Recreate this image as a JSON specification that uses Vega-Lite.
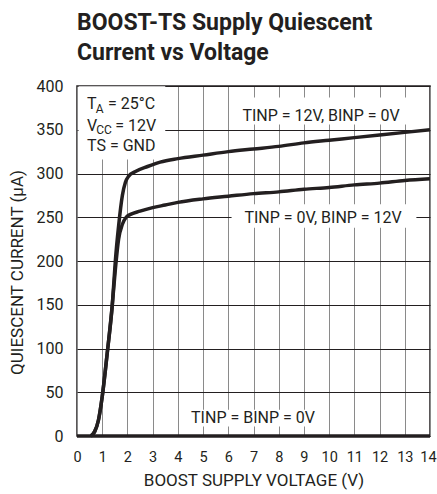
{
  "$schema": "https://vega.github.io/schema/vega-lite/v6.json",
  "width": 353,
  "height": 350,
  "autosize": {"type": "none"},
  "padding": {"left": 77, "top": 86, "right": 7, "bottom": 58},
  "background": "white",
  "title": {
    "text": ["BOOST-TS Supply Quiescent", "Current vs Voltage"],
    "anchor": "start",
    "frame": "group",
    "font": "Roboto",
    "fontSize": 23,
    "fontWeight": "bold",
    "color": "#231f20",
    "lineHeight": 30,
    "offset": 13
  },
  "config": {
    "view": {"stroke": "#231f20", "strokeWidth": 1.5},
    "axis": {
      "domain": false,
      "ticks": false,
      "tickSize": 0,
      "labelFont": "Roboto",
      "labelFontSize": 16,
      "labelColor": "#231f20",
      "labelPadding": 14,
      "labelFlush": false,
      "labelOverlap": false,
      "titleFont": "Roboto",
      "titleFontSize": 17,
      "titleFontWeight": "normal",
      "titleColor": "#231f20",
      "gridWidth": 1
    }
  },
  "datasets": {
    "curves": [
      {"s": "a", "x": 0.55, "y": 0}, {"s": "a", "x": 0.7, "y": 5}, {"s": "a", "x": 0.85, "y": 18}, {"s": "a", "x": 1.0, "y": 45},
      {"s": "a", "x": 1.2, "y": 95}, {"s": "a", "x": 1.4, "y": 150}, {"s": "a", "x": 1.52, "y": 200}, {"s": "a", "x": 1.65, "y": 240},
      {"s": "a", "x": 1.8, "y": 275}, {"s": "a", "x": 1.92, "y": 290}, {"s": "a", "x": 2.05, "y": 297}, {"s": "a", "x": 2.3, "y": 302},
      {"s": "a", "x": 2.8, "y": 308}, {"s": "a", "x": 3.3, "y": 313}, {"s": "a", "x": 4, "y": 317}, {"s": "a", "x": 5, "y": 321},
      {"s": "a", "x": 6, "y": 325}, {"s": "a", "x": 7, "y": 328}, {"s": "a", "x": 8, "y": 331}, {"s": "a", "x": 9, "y": 335},
      {"s": "a", "x": 10, "y": 338}, {"s": "a", "x": 11, "y": 341}, {"s": "a", "x": 12, "y": 344}, {"s": "a", "x": 13, "y": 347},
      {"s": "a", "x": 14, "y": 350},
      {"s": "b", "x": 0.55, "y": 0}, {"s": "b", "x": 0.7, "y": 5}, {"s": "b", "x": 0.85, "y": 18}, {"s": "b", "x": 1.0, "y": 45},
      {"s": "b", "x": 1.2, "y": 95}, {"s": "b", "x": 1.4, "y": 150}, {"s": "b", "x": 1.52, "y": 190}, {"s": "b", "x": 1.65, "y": 225},
      {"s": "b", "x": 1.8, "y": 242}, {"s": "b", "x": 1.95, "y": 250}, {"s": "b", "x": 2.1, "y": 253}, {"s": "b", "x": 2.5, "y": 257},
      {"s": "b", "x": 3, "y": 261}, {"s": "b", "x": 3.5, "y": 264}, {"s": "b", "x": 4, "y": 267}, {"s": "b", "x": 5, "y": 271},
      {"s": "b", "x": 6, "y": 274}, {"s": "b", "x": 7, "y": 277}, {"s": "b", "x": 8, "y": 279}, {"s": "b", "x": 9, "y": 282},
      {"s": "b", "x": 10, "y": 284}, {"s": "b", "x": 11, "y": 287}, {"s": "b", "x": 12, "y": 289}, {"s": "b", "x": 13, "y": 292},
      {"s": "b", "x": 14, "y": 294},
      {"s": "c", "x": 0, "y": 0}, {"s": "c", "x": 14, "y": 0}
    ],
    "boxes": [
      {"x": 0.06, "x2": 3.5, "y": 316, "y2": 399.6},
      {"x": 6.15, "x2": 13.1, "y": 356, "y2": 387},
      {"x": 6.13, "x2": 13.46, "y": 238, "y2": 265},
      {"x": 4.35, "x2": 9.6, "y": 11, "y2": 30}
    ],
    "leftText": [
      {"x": 0.4, "y": 374, "t": "T"},
      {"x": 1.23, "y": 374, "t": "= 25°C"},
      {"x": 0.4, "y": 348.3, "t": "V"},
      {"x": 1.52, "y": 348.3, "t": "= 12V"},
      {"x": 0.4, "y": 325.5, "t": "TS = GND"}
    ],
    "subText": [
      {"x": 0.74, "y": 369.6, "t": "A"},
      {"x": 0.76, "y": 345.6, "t": "CC"}
    ],
    "centerText": [
      {"x": 9.68, "y": 360, "t": "TINP = 12V, BINP = 0V"},
      {"x": 9.76, "y": 243.6, "t": "TINP = 0V, BINP = 12V"},
      {"x": 6.98, "y": 14.3, "t": "TINP = BINP = 0V"}
    ]
  },
  "encoding": {
    "x": {
      "field": "x",
      "type": "quantitative",
      "scale": {"domain": [0, 14], "nice": false, "zero": false},
      "axis": {
        "title": "BOOST SUPPLY VOLTAGE (V)",
        "values": [0, 1, 2, 3, 4, 5, 6, 7, 8, 9, 10, 11, 12, 13, 14],
        "gridColor": "#8a8a8a",
        "labelFontSize": 14.5,
        "labelOffset": {"expr": "datum.value == 14 ? -2 : 0"},
        "titlePadding": 9
      }
    },
    "y": {
      "field": "y",
      "type": "quantitative",
      "scale": {"domain": [0, 400], "nice": false},
      "axis": {
        "title": "QUIESCENT CURRENT (μA)",
        "values": [0, 50, 100, 150, 200, 250, 300, 350, 400],
        "gridColor": "#231f20",
        "titlePadding": 10,
        "titleY": 186
      }
    }
  },
  "layer": [
    {
      "data": {"name": "boxes"},
      "mark": {"type": "rect", "fill": "white", "stroke": null},
      "encoding": {"x2": {"field": "x2"}, "y2": {"field": "y2"}}
    },
    {
      "data": {"name": "curves"},
      "mark": {"type": "line", "interpolate": "monotone", "strokeWidth": 3.5, "color": "#231f20", "clip": false},
      "encoding": {"detail": {"field": "s", "type": "nominal"}}
    },
    {
      "data": {"name": "leftText"},
      "mark": {"type": "text", "align": "left", "baseline": "alphabetic", "font": "Roboto", "fontSize": 16, "color": "#231f20"},
      "encoding": {"text": {"field": "t"}}
    },
    {
      "data": {"name": "subText"},
      "mark": {"type": "text", "align": "left", "baseline": "alphabetic", "font": "Roboto", "fontSize": 12, "color": "#231f20"},
      "encoding": {"text": {"field": "t"}}
    },
    {
      "data": {"name": "centerText"},
      "mark": {"type": "text", "align": "center", "baseline": "alphabetic", "font": "Roboto", "fontSize": 16, "color": "#231f20"},
      "encoding": {"text": {"field": "t"}}
    }
  ]
}
